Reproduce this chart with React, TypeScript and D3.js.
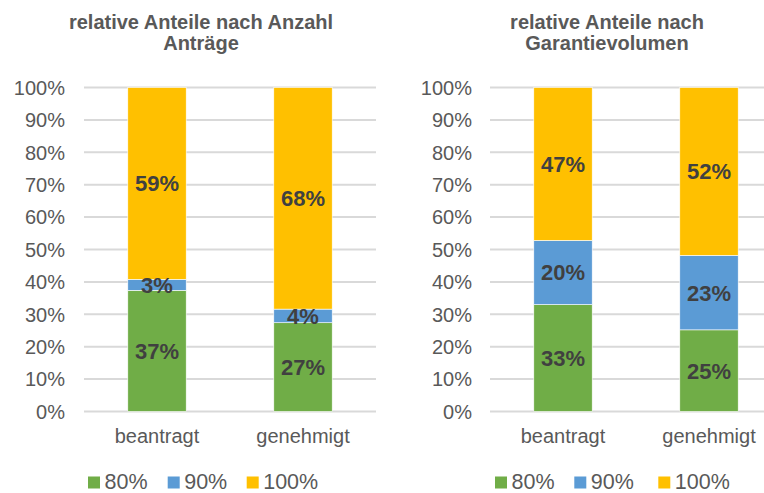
import React from "react";
import * as d3 from "d3";

const categories = ["beantragt", "genehmigt"];
const seriesNames = ["80%", "90%", "100%"];
const seriesColors = ["#70AD47", "#5B9BD5", "#FFC000"];
const titleLeft = ["relative Anteile nach Anzahl", "Anträge"];
const titleRight = ["relative Anteile nach", "Garantievolumen"];
// values per category: [80%, 90%, 100%]
const leftValues = [
  [37.4, 3.4, 59.2],
  [27.4, 4.2, 68.4],
];
const rightValues = [
  [33.0, 19.8, 47.2],
  [25.2, 23.0, 51.8],
];
const yTicks = [0, 10, 20, 30, 40, 50, 60, 70, 80, 90, 100];

const FONT = "Liberation Sans, Arial, sans-serif";

function Panel({ x0, x1, title, titleX, values, tickRight, legendX, legendOffsets }: any) {
  const x = d3.scaleBand().domain(categories).range([x0, x1]).paddingInner(0.6).paddingOuter(0.3);
  const y = d3.scaleLinear().domain([0, 100]).range([411.5, 87.5]);
  const stack = values.map((vals: number[]) => {
    let acc = 0;
    return vals.map((v) => {
      const s = { y0: acc, y1: acc + v, v };
      acc += v;
      return s;
    });
  });
  return (
    <g>
      {title.map((t: string, i: number) => (
        <text key={i} x={titleX} y={29 + i * 21} textAnchor="middle" fontSize={20} fontWeight="bold" fill="#595959" fontFamily={FONT}>
          {t}
        </text>
      ))}
      {yTicks.map((t) => (
        <g key={t}>
          <line x1={x0} x2={Math.min(x1, 764)} y1={y(t)} y2={y(t)} stroke="#D9D9D9" strokeWidth={2} />
          <text x={tickRight} y={y(t)} dy="0.36em" textAnchor="end" fontSize={20} fill="#595959" fontFamily={FONT}>
            {t + "%"}
          </text>
        </g>
      ))}
      {categories.map((c, ci) => (
        <g key={c}>
          {stack[ci].map((s: any, si: number) => (
            <rect key={si} x={x(c)} width={x.bandwidth()} y={y(s.y1)} height={y(s.y0) - y(s.y1)} fill={seriesColors[si]} stroke="#fff" strokeWidth={0.6} />
          ))}
          {stack[ci].map((s: any, si: number) => (
            <text key={"l" + si} x={(x(c) as number) + x.bandwidth() / 2} y={y((s.y0 + s.y1) / 2)} dy="0.36em" textAnchor="middle" fontSize={22} fontWeight="bold" fill="#404040" fontFamily={FONT}>
              {Math.round(s.v) + "%"}
            </text>
          ))}
          <text x={(x(c) as number) + x.bandwidth() / 2} y={443} textAnchor="middle" fontSize={20} fill="#595959" fontFamily={FONT}>
            {c}
          </text>
        </g>
      ))}
      {seriesNames.map((n, i) => (
        <g key={n} transform={`translate(${legendX + legendOffsets[i]},0)`}>
          <rect x={0} y={476.5} width={12} height={12} fill={seriesColors[i]} />
          <text x={16.5} y={488.5} fontSize={21.5} fill="#595959" fontFamily={FONT}>
            {n}
          </text>
        </g>
      ))}
    </g>
  );
}

export default function App() {
  return (
    <svg width={764} height={493} style={{ position: "absolute", left: 0, top: 0, background: "#fff" }}>
      <rect width={764} height={493} fill="#fff" />
      <Panel x0={84} x1={376} title={titleLeft} titleX={201} values={leftValues} tickRight={65} legendX={88} legendOffsets={[0, 79.7, 158.7]} />
      <Panel x0={490} x1={782} title={titleRight} titleX={607} values={rightValues} tickRight={472} legendX={495} legendOffsets={[0, 79.3, 163.3]} />
    </svg>
  );
}
